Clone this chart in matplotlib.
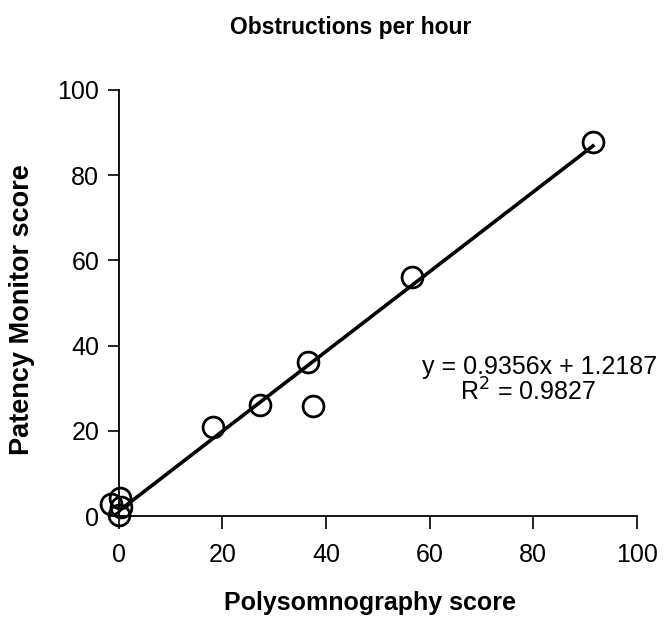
import matplotlib.pyplot as plt
import numpy as np

plt.rcParams['font.family'] = ['Liberation Sans', 'DejaVu Sans']

# data
psg_score = [-1.5, 0.0, 0.5, 0.2, 18.1, 27.2, 36.5, 37.5, 56.6, 91.5]
pm_score = [2.8, 0.2, 2.2, 4.2, 20.9, 26.0, 36.2, 25.8, 56.1, 87.8]
slope = 0.9356
intercept = 1.2187
r2 = 0.9827
ticks = [0, 20, 40, 60, 80, 100]

fig = plt.figure(figsize=(6.67, 6.19), dpi=100)
ax = fig.add_axes([0.178, 0.166, 0.777, 0.689])

fit_x = np.array([0.0, max(psg_score)])
ax.plot(fit_x, slope * fit_x + intercept, color='black', lw=2.6, zorder=2)
ax.plot(psg_score, pm_score, 'o', mfc='none', mec='black', mew=2.0, ms=15,
        clip_on=False, zorder=3)

ax.set_xlim(0, 100)
ax.set_ylim(0, 100)
ax.set_xticks(ticks)
ax.set_yticks(ticks)
ax.tick_params(direction='out', width=1.2, labelsize=18)
ax.tick_params(axis='x', length=9, pad=10)
ax.tick_params(axis='y', length=8, pad=6)
for side in ('top', 'right'):
    ax.spines[side].set_visible(False)
for side in ('left', 'bottom'):
    ax.spines[side].set_linewidth(1.3)

fig.text(0.555, 0.026, 'Polysomnography score', ha='center', va='center',
         fontsize=18, fontweight='bold')
fig.text(0.033, 0.499, 'Patency Monitor score', ha='center', va='center',
         rotation=90, fontsize=19.5, fontweight='bold')
fig.text(0.526, 0.956, 'Obstructions per hour', ha='center', va='center',
         fontsize=16.5, fontweight='bold')

ax.text(58.5, 35.0, 'y = 0.9356x + 1.2187', fontsize=18, ha='left', va='center',
        clip_on=False)
ax.text(79.0, 29.1, 'R$^2$ = ' + str(r2), fontsize=18, ha='center', va='center')

fig.savefig('out.png', dpi=100)
